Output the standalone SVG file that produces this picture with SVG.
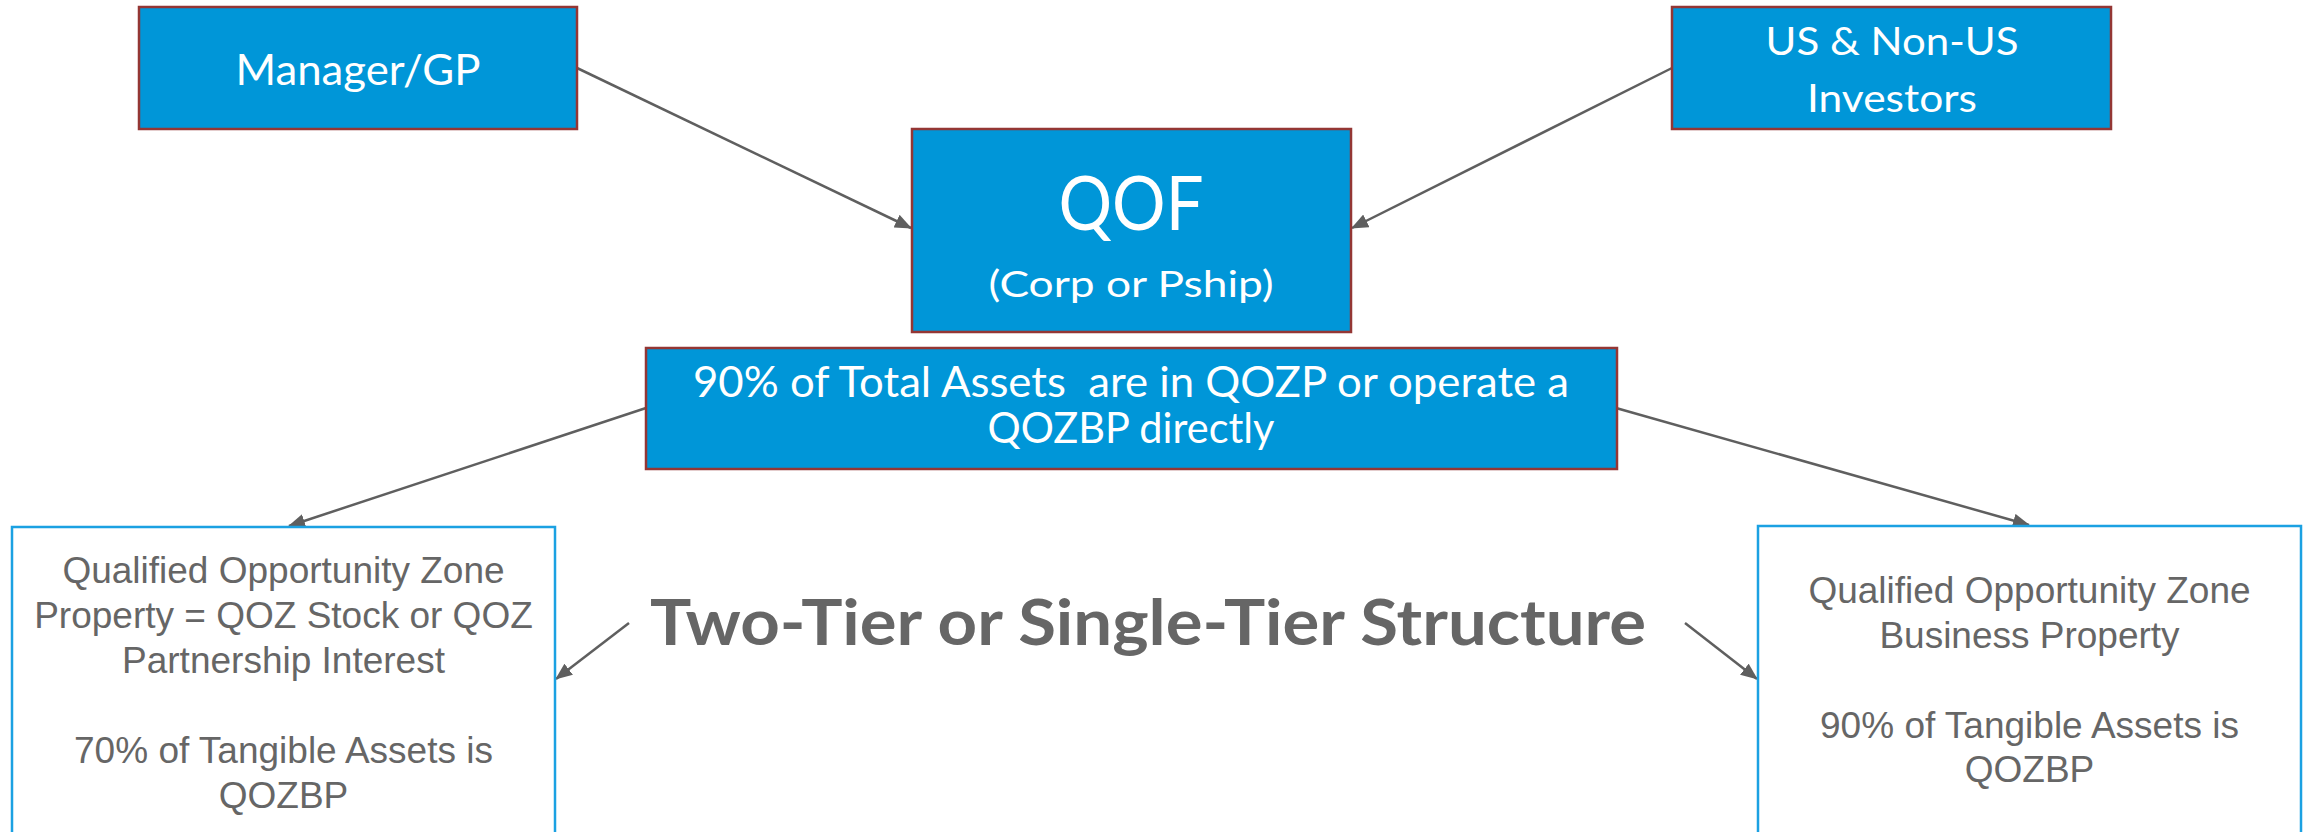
<svg xmlns="http://www.w3.org/2000/svg" width="2303" height="832" viewBox="0 0 2303 832">
  <style>
    .blue { fill: #0096D8; stroke: #943634; stroke-width: 2.5; }
    .white { fill: #FFFFFF; stroke: #1BA1E2; stroke-width: 2.5; }
    .wt { fill: #FFFFFF; font-family: Lato, "Open Sans", sans-serif; text-anchor: middle; white-space: pre; }
    .gt { fill: #666666; font-family: "Liberation Sans", Arial, sans-serif; font-size: 37px; text-anchor: middle; }
    .big { fill: #666666; font-family: Lato, "Open Sans", sans-serif; font-weight: bold; font-size: 64px; text-anchor: middle; }
    .conn { stroke: #5F5F5F; stroke-width: 2.5; fill: none; marker-end: url(#arrow); }
  </style>
  <defs>
    <marker id="arrow" markerUnits="userSpaceOnUse" markerWidth="17" markerHeight="14" refX="16" refY="7" orient="auto">
      <path d="M0,0 L17,7 L0,14 z" fill="#5F5F5F"/>
    </marker>
  </defs>
  <rect width="2303" height="832" fill="#FFFFFF"/>

  <g id="connectors">
    <line class="conn" x1="577" y1="68" x2="911" y2="228"/>
    <line class="conn" x1="1672" y1="68" x2="1352" y2="228"/>
    <line class="conn" x1="646" y1="408" x2="289" y2="526"/>
    <line class="conn" x1="1616" y1="408" x2="2029" y2="525"/>
    <line class="conn" x1="629" y1="623" x2="556" y2="679"/>
    <line class="conn" x1="1685" y1="623" x2="1757" y2="679"/>
  </g>

  <g id="manager">
    <rect class="blue" x="139" y="7" width="438" height="122"/>
    <text class="wt" x="358" y="85" font-size="42" textLength="245" lengthAdjust="spacingAndGlyphs">Manager/GP</text>
  </g>

  <g id="investors">
    <rect class="blue" x="1672" y="7" width="439" height="122"/>
    <text class="wt" x="1892" y="55" font-size="39" textLength="253" lengthAdjust="spacingAndGlyphs">US &amp; Non-US</text>
    <text class="wt" x="1892" y="112" font-size="39" textLength="170" lengthAdjust="spacingAndGlyphs">Investors</text>
  </g>

  <g id="qof">
    <rect class="blue" x="912" y="129" width="439" height="203"/>
    <text class="wt" x="1131" y="230" font-size="75" textLength="145" lengthAdjust="spacingAndGlyphs">QOF</text>
    <text class="wt" x="1131" y="297" font-size="37" textLength="285" lengthAdjust="spacingAndGlyphs">(Corp or Pship)</text>
  </g>

  <g id="assets">
    <rect class="blue" x="646" y="348" width="971" height="121"/>
    <text class="wt" x="1131" y="397" font-size="42" textLength="876" lengthAdjust="spacingAndGlyphs">90% of Total Assets  are in QOZP or operate a</text>
    <text class="wt" x="1131" y="443" font-size="42" textLength="287" lengthAdjust="spacingAndGlyphs">QOZBP directly</text>
  </g>

  <g id="qozp">
    <rect class="white" x="12" y="527" width="543" height="330"/>
    <text class="gt" x="283.5" y="583">Qualified Opportunity Zone</text>
    <text class="gt" x="283.5" y="628">Property = QOZ Stock or QOZ</text>
    <text class="gt" x="283.5" y="673">Partnership Interest</text>
    <text class="gt" x="283.5" y="763">70% of Tangible Assets is</text>
    <text class="gt" x="283.5" y="808">QOZBP</text>
  </g>

  <g id="qozbp">
    <rect class="white" x="1758" y="526" width="543" height="330"/>
    <text class="gt" x="2029.5" y="603">Qualified Opportunity Zone</text>
    <text class="gt" x="2029.5" y="648">Business Property</text>
    <text class="gt" x="2029.5" y="738">90% of Tangible Assets is</text>
    <text class="gt" x="2029.5" y="782">QOZBP</text>
  </g>

  <g id="structure-label">
    <text class="big" x="1148" y="645" textLength="996" lengthAdjust="spacingAndGlyphs">Two-Tier or Single-Tier Structure</text>
  </g>
</svg>
